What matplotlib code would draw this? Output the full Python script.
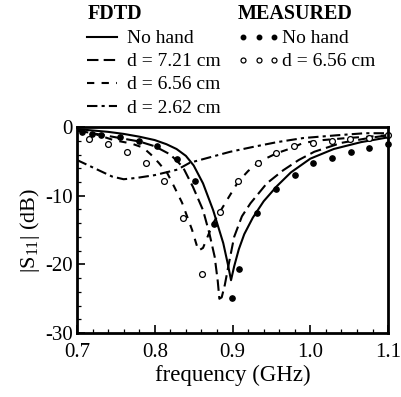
import matplotlib
matplotlib.use('Agg')
import matplotlib.pyplot as plt
from matplotlib.ticker import MultipleLocator, FixedLocator

plt.rcParams['font.family'] = ['Liberation Serif', 'DejaVu Serif']
plt.rcParams['mathtext.fontset'] = 'custom'
plt.rcParams['mathtext.rm'] = 'Liberation Serif'
plt.rcParams['axes.unicode_minus'] = False

# FDTD, no hand
f_nohand = [0.700, 0.720, 0.740, 0.760, 0.780, 0.800, 0.815, 0.828, 0.840, 0.850, 0.862, 0.875,
            0.888, 0.894, 0.898, 0.902, 0.908, 0.915, 0.926, 0.940, 0.957, 0.975, 1.000, 1.030,
            1.065, 1.100]
s_nohand = [-0.3, -0.5, -0.7, -1.0, -1.4, -1.9, -2.5, -3.2, -4.2, -5.6, -8.2, -12.1,
            -16.9, -20.0, -22.3, -20.3, -17.8, -15.6, -13.2, -10.8, -8.6, -6.6, -4.6, -3.2,
            -2.2, -1.5]

# FDTD, d = 7.21 cm
f_721 = [0.700, 0.720, 0.740, 0.760, 0.780, 0.800, 0.820, 0.836, 0.849, 0.862, 0.870, 0.877,
         0.881, 0.883, 0.886, 0.890, 0.895, 0.902, 0.912, 0.923, 0.944, 0.965, 0.985, 1.005,
         1.040, 1.075, 1.100]
s_721 = [-0.5, -0.9, -1.3, -1.7, -2.1, -2.8, -4.0, -5.8, -8.7, -12.1, -15.4, -18.9,
         -22.5, -25.0, -24.8, -23.0, -20.0, -16.0, -13.0, -11.1, -8.2, -6.3, -4.8, -3.6,
         -2.3, -1.6, -1.2]

# FDTD, d = 6.56 cm
f_656 = [0.700, 0.720, 0.747, 0.770, 0.785, 0.795, 0.805, 0.816, 0.825, 0.835, 0.848, 0.856,
         0.862, 0.875, 0.893, 0.907, 0.920, 0.935, 0.957, 0.975, 0.991, 1.016, 1.047, 1.075,
         1.100]
s_656 = [-0.5, -0.9, -1.9, -2.4, -3.0, -4.0, -5.2, -6.7, -8.7, -11.0, -15.0, -18.0,
         -17.6, -14.0, -10.6, -8.0, -6.4, -5.0, -3.8, -3.1, -2.3, -1.9, -1.6, -1.4,
         -1.2]

# FDTD, d = 2.62 cm
f_262 = [0.700, 0.715, 0.730, 0.745, 0.760, 0.777, 0.800, 0.829, 0.845, 0.871, 0.897, 0.926,
         0.957, 0.991, 1.034, 1.070, 1.100]
s_262 = [-4.8, -5.6, -6.4, -7.2, -7.6, -7.4, -7.0, -6.2, -5.2, -4.4, -3.6, -2.9,
         -2.2, -1.6, -1.2, -0.9, -0.9]

# measured, no hand
f_meas_nohand = [0.706, 0.719, 0.731, 0.755, 0.780, 0.803, 0.829, 0.852, 0.876, 0.899, 0.908,
                 0.932, 0.956, 0.980, 1.004, 1.028, 1.052, 1.076, 1.100]
s_meas_nohand = [-0.7, -1.0, -1.2, -1.5, -2.0, -2.8, -4.7, -7.9, -14.1, -24.9, -20.7,
                 -12.5, -9.0, -7.0, -5.2, -4.5, -3.6, -3.1, -2.5]

# measured, d = 6.56 cm
f_meas_656 = [0.715, 0.740, 0.764, 0.789, 0.812, 0.836, 0.861, 0.884, 0.907, 0.933, 0.956,
              0.979, 1.004, 1.028, 1.051, 1.076, 1.100]
s_meas_656 = [-1.7, -2.5, -3.6, -5.2, -7.9, -13.2, -21.4, -12.4, -7.9, -5.2, -3.8,
              -2.8, -2.3, -2.0, -1.7, -1.6, -1.2]

xticks = [0.7, 0.8, 0.9, 1.0, 1.1]
xticklabels = ['0.7', '0.8', '0.9', '1.0', '1.1']
yticks = [-30, -20, -10, 0]
yticklabels = ['-30', '-20', '-10', '0']

fig = plt.figure(figsize=(4.01, 3.97), dpi=100)
ax = fig.add_axes([0.192, 0.161, 0.776, 0.519])

lw = 1.5
l1, = ax.plot(f_nohand, s_nohand, color='black', lw=lw, ls='-')
l2, = ax.plot(f_721, s_721, color='black', lw=lw, ls=(0, (5.5, 2.5)))
l3, = ax.plot(f_656, s_656, color='black', lw=lw, ls=(0, (3.5, 3.5)))
l4, = ax.plot(f_262, s_262, color='black', lw=lw, ls=(0, (5, 2, 1.5, 2)))
m1, = ax.plot(f_meas_nohand, s_meas_nohand, ls='none', marker='o', ms=3.8,
              mfc='black', mec='black', clip_on=False)
m2, = ax.plot(f_meas_656, s_meas_656, ls='none', marker='o', ms=4.2,
              mfc='white', mec='black', mew=0.9, clip_on=False)

ax.set_xlim(0.7, 1.1)
ax.set_ylim(-30, 0)
ax.xaxis.set_major_locator(FixedLocator(xticks))
ax.set_xticklabels(xticklabels)
ax.xaxis.set_minor_locator(MultipleLocator(0.02))
ax.yaxis.set_major_locator(FixedLocator(yticks))
ax.set_yticklabels(yticklabels)
ax.yaxis.set_minor_locator(MultipleLocator(2))
ax.tick_params(which='both', direction='in', labelsize=15, top=False, right=False)
ax.tick_params(which='major', length=6, width=1.2)
ax.tick_params(axis='x', which='major', pad=7)
ax.tick_params(axis='y', which='major', pad=3)
ax.tick_params(which='minor', length=3, width=0.9)
for sp in ax.spines.values():
    sp.set_linewidth(2.0)

ax.set_xlabel('frequency (GHz)', fontsize=16.5, labelpad=2)
ax.set_ylabel('|S$_{11}$| (dB)', fontsize=16, labelpad=2)

leg1 = fig.legend([l1, l2, l3, l4],
                  ['No hand', 'd = 7.21 cm', 'd = 6.56 cm', 'd = 2.62 cm'],
                  title='FDTD', title_fontproperties={'weight': 'bold', 'size': 14.5},
                  fontsize=14, frameon=False, loc='upper left',
                  bbox_to_anchor=(0.213, 0.994), handlelength=1.55, handletextpad=0.5,
                  labelspacing=0.28, borderpad=0.1, borderaxespad=0.0, alignment='left')
leg2 = fig.legend([m1, m2], ['No hand', 'd = 6.56 cm'],
                  title='MEASURED', title_fontproperties={'weight': 'bold', 'size': 14.5},
                  fontsize=14, frameon=False, loc='upper left', numpoints=3,
                  bbox_to_anchor=(0.587, 0.994), handlelength=2.2, handletextpad=0.1,
                  labelspacing=0.28, borderpad=0.1, borderaxespad=0.0, alignment='left',
                  markerscale=0.85)

fig.savefig('out.png', dpi=100)
